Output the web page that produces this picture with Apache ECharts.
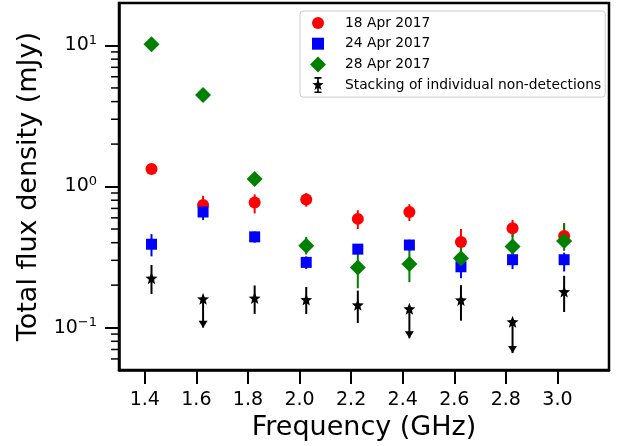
<!DOCTYPE html>
<html>
<head>
<meta charset="utf-8">
<script src="https://cdn.jsdelivr.net/npm/echarts@6/dist/echarts.min.js"></script>
<style>html,body{margin:0;padding:0;background:#fff;}#c{width:633px;height:446px;}</style>
</head>
<body>
<div id="c"></div>
<script>
// ---- data ----
const freqs = [1.426, 1.626, 1.826, 2.026, 2.226, 2.426, 2.626, 2.826, 3.026];
const red = [1.33, 0.74, 0.77, 0.81, 0.59, 0.66, 0.405, 0.506, 0.447];
const redLow = [1.25, 0.66, 0.645, 0.72, 0.50, 0.57, 0.33, 0.44, 0.38];
const redHigh = [1.42, 0.86, 0.88, 0.90, 0.68, 0.75, 0.50, 0.58, 0.55];
const blue = [0.39, 0.66, 0.44, 0.29, 0.36, 0.385, 0.27, 0.303, 0.303];
const blueLow = [0.32, 0.58, 0.40, 0.26, 0.33, 0.35, 0.224, 0.26, 0.25];
const blueHigh = [0.46, 0.72, 0.48, 0.32, 0.39, 0.42, 0.32, 0.34, 0.34];
const green = [10.2, 4.45, 1.13, 0.38, 0.267, 0.282, 0.31, 0.376, 0.412];
const greenLow = [10.0, 4.35, 1.1, 0.33, 0.19, 0.21, 0.26, 0.32, 0.35];
const greenHigh = [10.4, 4.55, 1.16, 0.44, 0.34, 0.36, 0.37, 0.47, 0.55];
const stack = [0.224, 0.16, 0.162, 0.158, 0.145, 0.136, 0.157, 0.11, 0.18];
const stackLow = [0.173, 0.1, 0.125, 0.125, 0.108, 0.084, 0.112, 0.066, 0.129];
const stackHigh = [0.278, 0.16, 0.199, 0.194, 0.183, 0.136, 0.2, 0.11, 0.233];
const stackUpperLimit = [false, true, false, false, false, true, false, true, false];

const seriesNames = ['18 Apr 2017', '24 Apr 2017', '28 Apr 2017', 'Stacking of individual non-detections'];
const xTicks = [1.4, 1.6, 1.8, 2.0, 2.2, 2.4, 2.6, 2.8, 3.0];
const yTicks = [0.1, 1, 10];
const yMinorTicks = [0.06, 0.07, 0.08, 0.09, 0.2, 0.3, 0.4, 0.5, 0.6, 0.7, 0.8, 0.9, 2, 3, 4, 5, 6, 7, 8, 9];
const xMin = 1.3, xMax = 3.2, yMin = 0.05, yMax = 20;

// ---- helpers ----
const FONT = 'DejaVu Sans';
const STAR = 'path://M10 5 L11.76 9.57 L16.66 9.84 L12.85 12.93 L14.11 17.66 L10 15 L5.89 17.66 L7.15 12.93 L3.34 9.84 L8.24 9.57 Z';
// legend icons drawn in a 40x16 box (bounding points M0 0 / M40 16), centred at x=18
const BOX = 'M0 0 M40 16 ';
const ICON_CIRCLE = 'path://' + BOX + 'M12 8 A6 6 0 1 1 24 8 A6 6 0 1 1 12 8 Z';
const ICON_SQUARE = 'path://' + BOX + 'M12 2 L24 2 L24 14 L12 14 Z';
const ICON_DIAMOND = 'path://' + BOX + 'M18 0 L26 8 L18 16 L10 8 Z';
const ICON_STAR_ERR = 'path://' + BOX + 'M17.2 0 L18.8 0 L18.8 16 L17.2 16 Z M14.5 0 L21.5 0 L21.5 1.6 L14.5 1.6 Z M14.5 14.4 L21.5 14.4 L21.5 16 L14.5 16 Z ' +
  'M18 2 L19.47 5.98 L23.71 6.15 L20.38 8.77 L21.53 12.85 L18 10.5 L14.47 12.85 L15.62 8.77 L12.29 6.15 L16.53 5.98 Z';

function zip(vals) { return freqs.map((f, i) => [f, vals[i]]); }
function zipErr(lo, hi, lim) { return freqs.map((f, i) => [f, lo[i], hi[i], lim ? (lim[i] ? 1 : 0) : 0]); }

function errRender(color) {
  return function (params, api) {
    const x = api.value(0);
    const a = api.coord([x, api.value(1)]);
    const b = api.coord([x, api.value(2)]);
    const children = [{
      type: 'line',
      shape: { x1: a[0], y1: a[1], x2: b[0], y2: b[1] },
      style: { stroke: color, lineWidth: 2 }
    }];
    if (api.value(3) === 1) {
      children.push({
        type: 'polygon',
        shape: { points: [[a[0] - 4.5, a[1] - 7], [a[0] + 4.5, a[1] - 7], [a[0], a[1]]] },
        style: { fill: color }
      });
    }
    return { type: 'group', children: children };
  };
}

function minorTickRender(params, api) {
  const p = api.coord([xMin, api.value(1)]);
  return {
    type: 'line',
    shape: { x1: p[0] - 8, y1: p[1], x2: p[0], y2: p[1] },
    style: { stroke: '#000', lineWidth: 1.5 }
  };
}

const chart = echarts.init(document.getElementById('c'), null, { renderer: 'canvas' });

const option = {
  animation: false,
  backgroundColor: '#fff',
  textStyle: { fontFamily: FONT },
  grid: { left: 119, right: 24, top: 3, bottom: 75, show: true, borderColor: '#000', borderWidth: 2.5, containLabel: false },
  legend: {
    left: 300, top: 11, orient: 'vertical',
    padding: [4, 4, 4, 0],
    itemWidth: 40, itemHeight: 16, itemGap: 4.7,
    borderColor: '#cccccc', borderWidth: 1, borderRadius: 3,
    backgroundColor: 'rgba(255,255,255,0.8)',
    textStyle: { fontFamily: FONT, fontSize: 13.8, color: '#000' },
    data: [
      { name: seriesNames[0], icon: ICON_CIRCLE },
      { name: seriesNames[1], icon: ICON_SQUARE },
      { name: seriesNames[2], icon: ICON_DIAMOND },
      { name: seriesNames[3], icon: ICON_STAR_ERR }
    ]
  },
  xAxis: {
    type: 'value', min: xMin, max: xMax,
    name: 'Frequency (GHz)', nameLocation: 'middle', nameGap: 37,
    nameTextStyle: { fontFamily: FONT, fontSize: 27, color: '#000' },
    axisLine: { show: true, lineStyle: { color: '#000', width: 2.5 } },
    axisTick: { show: true, inside: false, length: 14, lineStyle: { color: '#000', width: 2 }, customValues: xTicks },
    axisLabel: { show: true, margin: 20, fontFamily: FONT, fontSize: 19, color: '#000', customValues: xTicks,
      formatter: v => v.toFixed(1) },
    splitLine: { show: false }
  },
  yAxis: {
    type: 'log', logBase: 10, min: yMin, max: yMax,
    name: 'Total flux density (mJy)', nameLocation: 'middle', nameGap: 72, nameRotate: 90,
    nameTextStyle: { fontFamily: FONT, fontSize: 27, color: '#000' },
    axisLine: { show: true, lineStyle: { color: '#000', width: 2.5 } },
    axisTick: { show: true, inside: false, length: 14, lineStyle: { color: '#000', width: 2 }, customValues: yTicks },
    axisLabel: {
      show: true, margin: 22, customValues: yTicks, color: '#000',
      formatter: function (v) {
        const e = Math.round(Math.log10(v));
        return '{b|10}{s|' + (e < 0 ? '\u2212' + (-e) : e) + '}';
      },
      rich: {
        b: { fontFamily: FONT, fontSize: 19, color: '#000' },
        s: { fontFamily: FONT, fontSize: 13, color: '#000', verticalAlign: 'top', padding: [0, 0, 10, 0] }
      }
    },
    splitLine: { show: false },
    minorTick: { show: false }
  },
  series: [
    { type: 'custom', name: 'ytick-minor', renderItem: minorTickRender, data: yMinorTicks.map(v => [xMin, v]), silent: true, z: 3 },
    { type: 'custom', name: 'err-red', renderItem: errRender('#ff0000'), data: zipErr(redLow, redHigh), encode: { x: 0, y: [1, 2] }, silent: true, z: 2 },
    { type: 'scatter', name: seriesNames[0], data: zip(red), symbol: 'circle', symbolSize: 12, itemStyle: { color: '#ff0000', opacity: 1 }, z: 2 },
    { type: 'custom', name: 'err-blue', renderItem: errRender('#0000ff'), data: zipErr(blueLow, blueHigh), encode: { x: 0, y: [1, 2] }, silent: true, z: 2 },
    { type: 'scatter', name: seriesNames[1], data: zip(blue), symbol: 'rect', symbolSize: 11, itemStyle: { color: '#0000ff', opacity: 1 }, z: 2 },
    { type: 'custom', name: 'err-green', renderItem: errRender('#008000'), data: zipErr(greenLow, greenHigh), encode: { x: 0, y: [1, 2] }, silent: true, z: 2 },
    { type: 'scatter', name: seriesNames[2], data: zip(green), symbol: 'diamond', symbolSize: [16, 16], itemStyle: { color: '#008000', opacity: 1 }, z: 2 },
    { type: 'custom', name: 'err-stack', renderItem: errRender('#000000'), data: zipErr(stackLow, stackHigh, stackUpperLimit), encode: { x: 0, y: [1, 2] }, silent: true, z: 2 },
    { type: 'scatter', name: seriesNames[3], data: zip(stack), symbol: STAR, symbolSize: 12, itemStyle: { color: '#000000', opacity: 1 }, z: 2 }
  ]
};
chart.setOption(option);
</script>
</body>
</html>
